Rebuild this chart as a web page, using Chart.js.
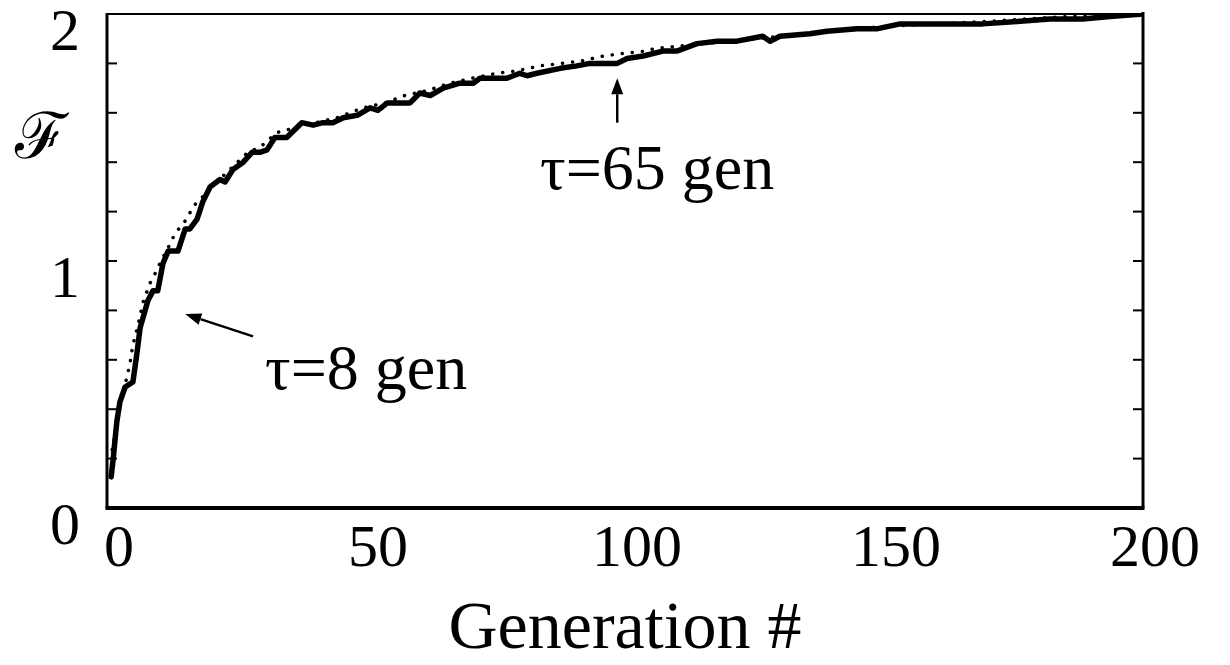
<!DOCTYPE html>
<html lang="en">
<head>
  <meta charset="UTF-8">
  <title>Fitness vs generation</title>
  <script src="https://cdn.jsdelivr.net/npm/chart.js"></script>
  <style>
    body { margin: 0; background: #fff; }
  </style>
</head>
<body>
<canvas id="fitChart" width="1230" height="665"></canvas>

<script>
  // measured fitness per generation (solid line)
  var genSolid = [0.8, 1.2, 1.9, 2.5, 3.5, 5.0, 5.8, 6.4, 7.9, 8.9, 9.8, 10.8, 11.8, 13.7, 15.1, 16.0,
    17.4, 18.5, 19.9, 21.8, 22.8, 24.3, 26.3, 28.0, 29.5, 30.9, 32.4, 34.7, 37.6, 39.8, 41.7, 43.6,
    45.6, 48.3, 50.8, 52.3, 54.1, 58.5, 60.4, 62.4, 64.9, 68.1, 70.7, 72.0, 74.5, 77.2, 79.7, 81.1,
    83.0, 87.5, 90.7, 93.2, 95.8, 98.5, 100.4, 103.5, 107.3, 110.0, 113.9, 117.8, 121.6, 126.6, 128.0,
    129.9, 135.7, 139.0, 144.8, 148.6, 153.1, 159.5, 161.4, 164.7, 169.1, 175.7, 182.0, 188.4, 193.6, 200];
  var fSolid = [0.126, 0.20, 0.35, 0.43, 0.49, 0.51, 0.63, 0.73, 0.84, 0.88, 0.88, 0.99, 1.04, 1.04, 1.13, 1.13,
    1.17, 1.24, 1.30, 1.33, 1.32, 1.37, 1.40, 1.44, 1.44, 1.45, 1.50, 1.50, 1.56, 1.55, 1.56, 1.56,
    1.58, 1.59, 1.62, 1.61, 1.64, 1.64, 1.68, 1.67, 1.70, 1.72, 1.72, 1.74, 1.74, 1.74, 1.76, 1.75,
    1.76, 1.78, 1.79, 1.80, 1.80, 1.80, 1.82, 1.83, 1.85, 1.85, 1.88, 1.89, 1.89, 1.91, 1.89,
    1.91, 1.92, 1.93, 1.94, 1.94, 1.96, 1.96, 1.96, 1.96, 1.96, 1.97, 1.98, 1.98, 1.99, 2.00];

  // two-timescale fit (dotted line)
  var genFit = [1.0, 2.9, 3.5, 4.4, 5.0, 6.0, 6.9, 8.3, 9.3, 10.2, 12.2, 13.1, 15.4, 16.6, 18.0, 22.2,
    23.7, 27.2, 29.5, 32.8, 38.2, 44.4, 49.4, 53.7, 57.5, 61.8, 66.2, 70.5, 75.3, 79.2, 83.6, 87.8,
    91.7, 95.8, 99.6, 103.9, 105.8, 115, 130, 150, 170, 185, 200];
  var fFit = [0.236, 0.45, 0.50, 0.58, 0.66, 0.74, 0.83, 0.91, 0.95, 0.99, 1.07, 1.11, 1.17, 1.22, 1.25, 1.34,
    1.37, 1.44, 1.46, 1.52, 1.55, 1.58, 1.62, 1.64, 1.67, 1.69, 1.72, 1.74, 1.76, 1.77, 1.79, 1.80,
    1.81, 1.83, 1.84, 1.85, 1.86, 1.88, 1.91, 1.95, 1.97, 1.99, 2.00];

  var xTicks = [0, 50, 100, 150, 200];
  var yLabels = [0, 1, 2];

  var serif = "'Liberation Serif', 'Times New Roman', serif";

  function toPoints(xs, ys) {
    return xs.map(function(x, i) { return { x: x, y: ys[i] }; });
  }

  function arrow(ctx, x0, y0, x1, y1) {
    var ang = Math.atan2(y1 - y0, x1 - x0);
    var len = 16, half = 6;
    ctx.beginPath();
    ctx.moveTo(x0, y0);
    ctx.lineTo(x1 - len * Math.cos(ang), y1 - len * Math.sin(ang));
    ctx.lineWidth = 2.5;
    ctx.stroke();
    ctx.beginPath();
    ctx.moveTo(x1, y1);
    ctx.lineTo(x1 - len * Math.cos(ang) + half * Math.sin(ang), y1 - len * Math.sin(ang) - half * Math.cos(ang));
    ctx.lineTo(x1 - len * Math.cos(ang) - half * Math.sin(ang), y1 - len * Math.sin(ang) + half * Math.cos(ang));
    ctx.closePath();
    ctx.fill();
  }

  // box frame, inward ticks, symbol label and annotations
  var framePlugin = {
    id: 'frame',
    afterDraw: function(chart) {
      var ctx = chart.ctx, a = chart.chartArea;
      var xs = chart.scales.x, ys = chart.scales.y;
      ctx.save();
      ctx.strokeStyle = '#000';
      ctx.fillStyle = '#000';

      ctx.lineWidth = 2;
      ctx.beginPath(); ctx.moveTo(a.left, a.top); ctx.lineTo(a.right, a.top); ctx.stroke();
      ctx.lineWidth = 3;
      ctx.beginPath(); ctx.moveTo(a.right, a.top - 2); ctx.lineTo(a.right, a.bottom); ctx.stroke();
      ctx.beginPath(); ctx.moveTo(a.left, a.top - 1); ctx.lineTo(a.left, a.bottom); ctx.stroke();
      ctx.lineWidth = 4;
      ctx.beginPath(); ctx.moveTo(a.left - 1.5, a.bottom); ctx.lineTo(a.right + 1.5, a.bottom); ctx.stroke();

      ctx.lineWidth = 2;
      ys.ticks.forEach(function(t) {
        if (t.value <= 0.01 || t.value >= 1.99) return;
        var py = ys.getPixelForValue(t.value);
        ctx.beginPath(); ctx.moveTo(a.left, py); ctx.lineTo(a.left + 10, py); ctx.stroke();
        ctx.beginPath(); ctx.moveTo(a.right, py); ctx.lineTo(a.right - 10, py); ctx.stroke();
      });

      ctx.font = '64px ' + serif;
      ctx.textAlign = 'center';
      ctx.textBaseline = 'alphabetic';
      ctx.fillText('\u2131', a.left - 66, a.top + 144);

      ctx.font = '64px ' + serif;
      ctx.textAlign = 'left';
      ctx.fillText('\u03c4=8 gen', xs.getPixelForValue(30.5), ys.getPixelForValue(0.48));
      ctx.fillText('\u03c4=65 gen', xs.getPixelForValue(83.6), ys.getPixelForValue(1.29));

      arrow(ctx, xs.getPixelForValue(28.2), ys.getPixelForValue(0.695),
                 xs.getPixelForValue(15.1), ys.getPixelForValue(0.785));
      arrow(ctx, xs.getPixelForValue(98.5), ys.getPixelForValue(1.56),
                 xs.getPixelForValue(98.5), ys.getPixelForValue(1.74));
      ctx.restore();
    }
  };

  var ctx = document.getElementById('fitChart').getContext('2d');
  new Chart(ctx, {
    type: 'line',
    data: {
      datasets: [{
        data: toPoints(genFit, fFit),
        borderColor: '#000',
        borderWidth: 3.5,
        borderDash: [0.1, 10],
        borderCapStyle: 'round',
        pointRadius: 0,
        tension: 0
      }, {
        data: toPoints(genSolid, fSolid),
        borderColor: '#000',
        borderWidth: 5.5,
        borderJoinStyle: 'round',
        borderCapStyle: 'round',
        pointRadius: 0,
        tension: 0
      }]
    },
    options: {
      responsive: false,
      animation: false,
      layout: { padding: { left: 0, right: 87, top: 14, bottom: 0 } },
      plugins: { legend: { display: false }, tooltip: { enabled: false } },
      scales: {
        x: {
          type: 'linear',
          min: 0, max: 200,
          afterBuildTicks: function(axis) {
            axis.ticks = xTicks.map(function(v) { return { value: v }; });
          },
          afterFit: function(axis) { axis.paddingLeft = 0; axis.paddingRight = 0; },
          grid: { display: false, drawTicks: false },
          border: { display: false },
          ticks: {
            color: '#000',
            font: { family: serif, size: 60, lineHeight: 1 },
            padding: 12,
            labelOffset: 12,
            maxRotation: 0,
            autoSkip: false
          },
          title: {
            display: true,
            text: 'Generation #',
            color: '#000',
            font: { family: serif, size: 68, lineHeight: 1 },
            padding: { top: 4, bottom: 1 }
          }
        },
        y: {
          min: 0, max: 2,
          grid: { display: false, drawTicks: false },
          border: { display: false },
          afterFit: function(axis) { axis.width = 107; axis.paddingTop = 0; axis.paddingBottom = 0; },
          ticks: {
            stepSize: 0.2,
            autoSkip: false,
            color: '#000',
            font: { family: serif, size: 60, lineHeight: 1 },
            padding: 27,
            labelOffset: 20,
            callback: function(v) {
              var r = Math.round(v * 10) / 10;
              return yLabels.indexOf(r) >= 0 ? String(r) : '';
            }
          }
        }
      }
    },
    plugins: [framePlugin]
  });
</script>
</body>
</html>
